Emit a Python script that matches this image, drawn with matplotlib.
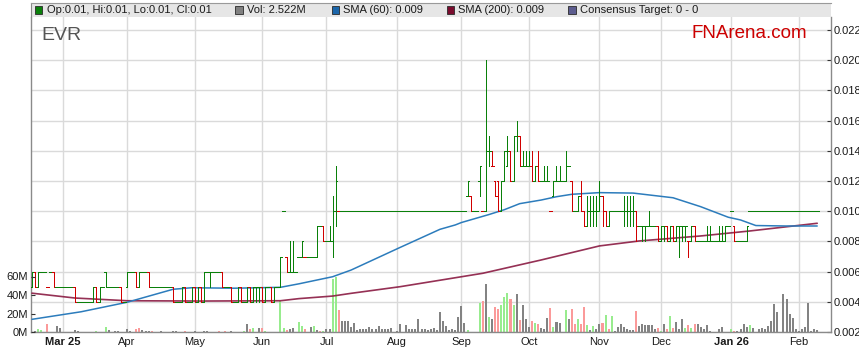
import numpy as np
import pandas as pd
import matplotlib
matplotlib.use("Agg")
import matplotlib.pyplot as plt
from matplotlib.collections import LineCollection
from matplotlib.patches import Rectangle

plt.rcParams['font.family'] = ['Liberation Sans', 'DejaVu Sans']

# ---------------- data ----------------
first_day = "2025-02-17"
n_days = 257
dates = pd.bdate_range(first_day, periods=n_days)

# prices in thousandths of A$ (0.001)
open_k = [
    5, 6, 5, 6, 6, 5, 6, 6, 5, 5,
    5, 5, 5, 5, 5, 4, 4, 4, 4, 4,
    4, 5, 4, 5, 6, 5, 5, 5, 5, 5,
    4, 5, 6, 6, 6, 5, 6, 6, 6, 5,
    5, 5, 5, 5, 5, 5, 5, 4, 4, 4,
    5, 4, 4, 5, 4, 5, 4, 6, 6, 6,
    6, 6, 6, 5, 5, 5, 4, 4, 5, 4,
    4, 5, 4, 5, 5, 5, 4, 5, 5, 4,
    5, 5, 10, 7, 6, 6, 6, 7, 7, 7,
    7, 7, 7, 7, 9, 9, 8, 8, 8, 10,
    10, 10, 10, 10, 10, 10, 10, 10, 10, 10,
    10, 10, 10, 10, 10, 10, 10, 10, 10, 10,
    10, 10, 10, 10, 10, 10, 10, 10, 10, 10,
    10, 10, 10, 10, 10, 10, 10, 10, 10, 10,
    10, 10, 11, 11, 10, 10, 12, 10, 10, 14,
    13, 12, 12, 10, 12, 13, 14, 12, 15, 15,
    13, 13, 13, 13, 12, 13, 12, 12, 12, 10,
    11, 12, 12, 12, 12, 13, 12, 10, 10, 11,
    10, 9, 10, 10, 10, 10, 11, 10, 9, 10,
    10, 10, 10, 10, 10, 10, 10, 10, 9, 9,
    9, 9, 9, 9, 9, 8, 9, 9, 8, 9,
    8, 9, 9, 9, 8, 8, 9, 8, 8, 8,
    8, 8, 8, 8, 8, 8, 8, 9, 10, 9,
    8, 8, 8, 8, 10, 10, 10, 10, 10, 10,
    10, 10, 10, 10, 10, 10, 10, 10, 10, 10,
    10, 10, 10, 10, 10, 10, 10,
]
high_k = [
    6, 6, 6, 6, 6, 5, 6, 6, 5, 5,
    5, 5, 5, 5, 5, 4, 4, 4, 4, 4,
    5, 5, 5, 5, 6, 5, 5, 5, 5, 5,
    4, 6, 6, 6, 6, 6, 6, 6, 6, 5,
    5, 5, 5, 5, 5, 5, 5, 4, 4, 5,
    5, 4, 5, 5, 5, 5, 6, 6, 6, 6,
    6, 6, 6, 5, 5, 5, 4, 5, 5, 4,
    5, 5, 5, 5, 5, 5, 5, 5, 5, 5,
    5, 7, 10, 7, 8, 8, 6, 7, 8, 7,
    7, 7, 7, 9, 9, 9, 8, 9, 11, 13,
    10, 10, 10, 10, 10, 10, 10, 10, 10, 10,
    10, 10, 10, 10, 10, 10, 10, 10, 10, 10,
    10, 10, 10, 10, 10, 10, 10, 10, 10, 10,
    10, 10, 10, 10, 10, 10, 10, 10, 10, 10,
    10, 10, 12, 11, 10, 10, 13, 10, 20, 15,
    14, 12, 12, 12, 14, 15, 14, 15, 16, 15,
    14, 14, 14, 14, 13, 14, 12, 13, 13, 10,
    12, 13, 13, 12, 14, 13, 12, 10, 11, 12,
    10, 11, 11, 11, 11, 12, 11, 10, 10, 10,
    10, 10, 10, 11, 11, 11, 11, 10, 9, 9,
    9, 10, 9, 9, 9, 9, 9, 9, 9, 9,
    9, 9, 9, 9, 8, 9, 9, 8, 8, 8,
    9, 9, 8, 8, 9, 9, 9, 9, 10, 9,
    8, 8, 8, 9, 10, 10, 10, 10, 10, 10,
    10, 10, 10, 10, 10, 10, 10, 10, 10, 10,
    10, 10, 10, 10, 10, 10, 10,
]
low_k = [
    5, 5, 5, 6, 6, 5, 6, 5, 5, 5,
    5, 5, 5, 5, 4, 4, 4, 4, 4, 4,
    4, 4, 4, 5, 5, 5, 5, 5, 5, 4,
    4, 5, 6, 6, 5, 5, 6, 6, 5, 5,
    5, 5, 5, 5, 5, 5, 4, 4, 4, 4,
    4, 4, 4, 4, 4, 4, 4, 6, 5, 6,
    6, 6, 5, 5, 5, 4, 4, 4, 4, 4,
    4, 4, 4, 4, 4, 4, 4, 5, 4, 4,
    5, 5, 10, 6, 6, 6, 6, 7, 7, 7,
    7, 7, 7, 7, 9, 8, 8, 8, 7, 9,
    10, 10, 10, 10, 10, 10, 10, 10, 10, 10,
    10, 10, 10, 10, 10, 10, 10, 10, 10, 10,
    10, 10, 10, 10, 10, 10, 10, 10, 10, 10,
    10, 10, 10, 10, 10, 10, 10, 10, 10, 10,
    10, 10, 11, 10, 10, 10, 11, 10, 10, 13,
    13, 11, 10, 10, 12, 13, 12, 12, 14, 13,
    13, 13, 13, 12, 12, 12, 12, 12, 12, 10,
    11, 12, 12, 12, 12, 13, 10, 10, 10, 10,
    9, 9, 9, 9, 9, 10, 9, 9, 9, 10,
    10, 10, 10, 9, 9, 9, 9, 8, 9, 8,
    8, 9, 9, 9, 8, 8, 8, 8, 8, 8,
    8, 7, 8, 8, 7, 8, 8, 8, 8, 8,
    8, 8, 8, 8, 8, 8, 8, 9, 10, 8,
    8, 8, 8, 8, 10, 10, 10, 10, 10, 10,
    10, 10, 10, 10, 10, 10, 10, 10, 10, 10,
    10, 10, 10, 10, 10, 10, 10,
]
close_k = [
    6, 5, 6, 6, 6, 5, 6, 5, 5, 5,
    5, 5, 5, 5, 4, 4, 4, 4, 4, 4,
    5, 4, 5, 5, 5, 5, 5, 5, 5, 4,
    4, 6, 6, 6, 5, 6, 6, 6, 5, 5,
    5, 5, 5, 5, 5, 5, 4, 4, 4, 5,
    4, 4, 5, 4, 5, 4, 6, 6, 6, 6,
    6, 6, 5, 5, 5, 4, 4, 5, 4, 4,
    5, 4, 5, 5, 5, 4, 5, 5, 4, 5,
    5, 7, 10, 6, 6, 6, 6, 7, 8, 7,
    7, 7, 7, 9, 9, 8, 8, 8, 10, 12,
    10, 10, 10, 10, 10, 10, 10, 10, 10, 10,
    10, 10, 10, 10, 10, 10, 10, 10, 10, 10,
    10, 10, 10, 10, 10, 10, 10, 10, 10, 10,
    10, 10, 10, 10, 10, 10, 10, 10, 10, 10,
    10, 10, 12, 10, 10, 10, 13, 10, 14, 14,
    13, 11, 10, 12, 14, 14, 12, 15, 15, 13,
    13, 13, 13, 12, 13, 12, 12, 12, 12, 10,
    12, 12, 12, 12, 13, 13, 10, 10, 11, 10,
    9, 10, 10, 10, 10, 11, 10, 9, 10, 10,
    10, 10, 10, 10, 10, 10, 10, 9, 9, 9,
    9, 9, 9, 9, 8, 9, 9, 8, 9, 8,
    9, 9, 9, 9, 8, 9, 8, 8, 8, 8,
    8, 8, 8, 8, 8, 8, 9, 9, 10, 8,
    8, 8, 8, 9, 10, 10, 10, 10, 10, 10,
    10, 10, 10, 10, 10, 10, 10, 10, 10, 10,
    10, 10, 10, 10, 10, 10, 10,
]

# volume in millions of shares
vol_m = [
    0, 1.1, 2.9, 2.5, 0, 8.6, 0, 0, 6.5, 4.3,
    0, 0, 0, 0, 2.2, 1.4, 0, 0, 0, 0,
    0, 1.1, 0, 0, 5.0, 2.2, 0, 1.4, 1.1, 0,
    0, 2.9, 1.1, 0, 3.6, 4.3, 2.2, 1.1, 1.1, 1.1,
    0, 0, 0.7, 0, 0, 0, 0.7, 0.7, 0, 0,
    0.7, 0, 0, 0.7, 0, 0, 1.1, 1.1, 0, 0,
    0, 0.7, 0, 0.7, 0, 0.7, 0, 0, 0, 0.7,
    8.6, 3.6, 4.3, 0, 4.3, 4.3, 0.7, 0, 0, 0,
    0, 33.0, 4.3, 2.5, 2.9, 4.3, 0, 10.8, 6.5, 2.9,
    0, 5.4, 6.5, 1.8, 1.1, 1.1, 2.9, 2.9, 56.8, 59.4,
    23.7, 11.9, 11.9, 11.9, 5.4, 9.7, 1.8, 3.6, 3.6, 2.9,
    5.4, 2.9, 2.9, 6.5, 2.9, 2.9, 3.6, 4.3, 0, 1.1,
    9.0, 0, 7.9, 2.9, 2.9, 3.6, 14.4, 3.6, 3.6, 1.8,
    2.9, 4.3, 1.8, 21.6, 11.9, 6.5, 1.8, 2.9, 1.8, 16.2,
    28.0, 10.0, 1.8, 0, 0, 0, 31.7, 33.5, 52.0, 16.2,
    14.4, 27.0, 25.2, 29.5, 37.8, 42.4, 36.0, 29.5, 41.4, 13.3,
    29.5, 13.7, 5.4, 11.9, 10.0, 8.3, 4.7, 2.9, 15.1, 25.9,
    5.4, 10.8, 10.0, 0, 23.7, 14.4, 25.2, 9.0, 14.4, 9.0,
    27.0, 7.2, 1.8, 6.5, 2.9, 9.0, 10.0, 18.7, 3.6, 17.3,
    1.1, 5.4, 9.0, 5.4, 3.6, 1.8, 1.8, 22.7, 6.5, 9.0,
    7.2, 7.2, 7.9, 2.9, 4.3, 1.1, 9.0, 2.9, 17.3, 4.3,
    10.8, 2.9, 14.4, 4.3, 7.9, 4.3, 9.0, 9.0, 5.4, 2.9,
    7.2, 1.1, 0, 0, 2.9, 5.4, 0, 0, 2.9, 1.1,
    1.1, 2.9, 9.0, 5.4, 7.2, 4.3, 0, 2.9, 4.3, 2.9,
    6.5, 11.9, 30.6, 21.6, 0, 41.4, 36.0, 19.8, 15.1, 2.9,
    1.1, 3.6, 5.4, 31.7, 1.1, 2.9, 2.5,
]
# volume bar trend as drawn: u = up (green), d = down (red), n = unchanged (grey)
vol_trend = (
    "nnuundnnnn" "nnnnnnnnnn" "nunnunnnnn" "nnnnddnnnd" "nnnnnnnnnn"
    "dnnnnnnnnn" "ndndnnnnnu" "ndunndunnn" "nuudnnnuud" "nnundunnuu"
    "dnnnnnnnnn" "nnnnnnnnnn" "nnnnnnnnnn" "nnnnnnnnnn" "nnunnnudnu"
    "ndduuudund" "nnndudnnnd" "unnnunddud" "dununndudu" "nnnnnnndnn"
    "nnnndundud" "nnnududnnn" "nnnnnnnnud" "nnnnunnnnn" "nnnnnnnnnn"
    "nnnnnnn"
)

# moving averages (trading-day number, price)
sma60_day = [0, 16, 31, 46, 52, 66, 81, 87, 98, 104, 120, 133, 138, 140, 149,
             154, 159, 166, 171, 176, 185, 196, 209, 218, 227, 231, 236, 246, 256]
sma60_val = [0.00284, 0.00334, 0.00397, 0.00483, 0.00493, 0.00490, 0.00496,
             0.00519, 0.00566, 0.00610, 0.00760, 0.00880, 0.00909, 0.00925,
             0.00978, 0.01010, 0.01050, 0.01074, 0.01096, 0.01112, 0.01123,
             0.01120, 0.01089, 0.01030, 0.00960, 0.00942, 0.00905, 0.00902,
             0.00902]
sma200_day = [0, 14, 31, 55, 81, 87, 98, 104, 120, 147, 166, 185, 198, 218,
              234, 256]
sma200_val = [0.00457, 0.00425, 0.00407, 0.00405, 0.00407, 0.00421, 0.00438,
              0.00456, 0.00500, 0.00589, 0.00677, 0.00770, 0.00803, 0.00836,
              0.00869, 0.00920]

month_labels = ["Mar 25", "Apr", "May", "Jun", "Jul", "Aug", "Sep", "Oct",
                "Nov", "Dec", "Jan 26", "Feb"]
year_labels = ["Mar 25", "Jan 26"]
price_ticks = [0.002, 0.004, 0.006, 0.008, 0.010, 0.012, 0.014, 0.016,
               0.018, 0.020, 0.022]
vol_ticks_m = [0, 20, 40, 60]

legend_labels = ["Op:0.01, Hi:0.01, Lo:0.01, Cl:0.01", "Vol: 2.522M",
                 "SMA (60): 0.009", "SMA (200): 0.009",
                 "Consensus Target: 0 - 0"]
legend_colors = ["#0a800a", "#808080", "#1b66aa", "#7a0c2e", "#5c5c8e"]

ticker = "EVR"
brand = "FNArena.com"

# ---------------- layout ----------------
W, H = 859, 363
L, R, T, B = 30.7, 831.0, 17.0, 332.0
PX_PER_MILLI = 15.1          # pixels per 0.001 of price
PX_PER_MVOL = 0.925          # pixels per 1M shares

fig = plt.figure(figsize=(W / 100, H / 100), dpi=100)
fig.patch.set_facecolor("white")
ax = fig.add_axes([L / W, 1 - B / H, (R - L) / W, (B - T) / H])
ax.set_facecolor("white")

n = len(close_k)
idx = np.arange(n)
o = np.array(open_k) / 1000.0
h = np.array(high_k) / 1000.0
lo = np.array(low_k) / 1000.0
c = np.array(close_k) / 1000.0

x_left, x_right = -0.434, 260.5
y_bot = 0.002
y_top = y_bot + (B - T) / PX_PER_MILLI * 0.001
ax.set_xlim(x_left, x_right)
ax.set_ylim(y_bot, y_top)

# month starts from the date axis
mkey = dates.year * 12 + dates.month
month_pos = [i for i in range(1, len(dates)) if mkey[i] != mkey[i - 1]]

# left volume axis (ticks only)
vol_top = (B - T) / PX_PER_MVOL
axv = ax.twinx()
axv.set_ylim(0, vol_top)
axv.yaxis.tick_left()
axv.yaxis.set_label_position("left")
axv.set_yticks(vol_ticks_m)
axv.set_yticklabels([f"{v}M" for v in vol_ticks_m])
axv.tick_params(axis="y", which="both", left=True, right=False,
                labelleft=True, labelright=False, direction="in", length=3,
                width=0.8, color="#333333", labelsize=8, pad=1.8,
                labelcolor="#1a1a1a")
for s in axv.spines.values():
    s.set_visible(False)
axv.patch.set_visible(False)

# grid
ax.set_axisbelow(True)
ax.set_xticks(month_pos)
ax.set_xticklabels(month_labels)
ax.set_yticks(price_ticks)
ax.set_yticklabels([f"{v:.3f}" for v in price_ticks])
ax.grid(True, color="#dadada", lw=1.0, zorder=0)

# volume bars (scaled to the left axis, drawn in axes-fraction height)
vcol = {"u": "#98ec8e", "d": "#fb9a9a", "n": "#838383"}
vfrac = np.array(vol_m) / vol_top
ax.bar(idx, vfrac, width=0.66, bottom=0,
       color=[vcol[t] for t in vol_trend[:n]],
       transform=ax.get_xaxis_transform(), zorder=1.5, linewidth=0)

# moving averages
ax.plot(sma200_day, sma200_val, color="#8a1a42", lw=1.2, alpha=0.9,
        zorder=3, solid_capstyle="round")
ax.plot(sma60_day, sma60_val, color="#2c7cbc", lw=1.1, zorder=3.1,
        solid_capstyle="round")

# OHLC bars
vsegs, tsegs, vcols, tcols = [], [], [], []
for i in range(n):
    down = i > 0 and c[i] < c[i - 1]
    col = "#d10000" if down else "#0a800a"
    if h[i] > lo[i]:
        vsegs.append([(i, lo[i]), (i, h[i])])
        vcols.append(col)
    tsegs.append([(i - 0.5, o[i]), (i, o[i])])
    tsegs.append([(i, c[i]), (i + 0.5, c[i])])
    tcols += [col, col]
ax.add_collection(LineCollection(tsegs, colors=tcols, linewidths=0.6,
                                 capstyle="projecting", antialiaseds=False,
                                 zorder=4))
ax.add_collection(LineCollection(vsegs, colors=vcols, linewidths=0.6,
                                 capstyle="butt", antialiaseds=False,
                                 zorder=4.1))

# axes styling
for s in ["left", "right", "bottom"]:
    ax.spines[s].set_color("#8a8a8a")
    ax.spines[s].set_linewidth(1.0)
ax.spines["top"].set_visible(False)
ax.tick_params(axis="y", which="both", left=False, right=True,
               labelleft=False, labelright=True, direction="in", length=3,
               width=0.8, color="#333333", labelsize=8, pad=1.8,
               labelcolor="#1a1a1a")
ax.tick_params(axis="x", length=0, labelsize=8, pad=3.6, labelcolor="#1a1a1a")
for lab in ax.get_xticklabels():
    if lab.get_text() in year_labels:
        lab.set_fontweight("bold")

# header strip (legend)
axl = fig.add_axes([L / W, 1 - T / H, (R - L) / W, (T - 3) / H])
axl.set_xlim(L, R)
axl.set_ylim(T, 3)
axl.set_facecolor("#e6e6e6")
axl.set_xticks([])
axl.set_yticks([])
for s in ["right", "bottom"]:
    axl.spines[s].set_visible(False)
axl.spines["top"].set_color("#9a9a9a")
axl.spines["left"].set_color("#8a8a8a")
leg_x = [35.0, 235.3, 331.8, 446.7, 568.3]
for xs, lab, col in zip(leg_x, legend_labels, legend_colors):
    axl.add_patch(Rectangle((xs, 6.2), 7.4, 7.4, facecolor=col,
                            edgecolor="#2a2a2a", lw=0.6))
    axl.text(xs + 11.6, 10.0, lab, fontsize=8, va="center", ha="left",
             color="#1a1a1a")

fig.text(41.7 / W, 1 - 40.0 / H, ticker, fontsize=14, color="#555555",
         ha="left", va="baseline")
fig.text(806.7 / W, 1 - 38.3 / H, brand, fontsize=13.5, color="#cc0000",
         ha="right", va="baseline")

fig.savefig("out.png", dpi=100)
